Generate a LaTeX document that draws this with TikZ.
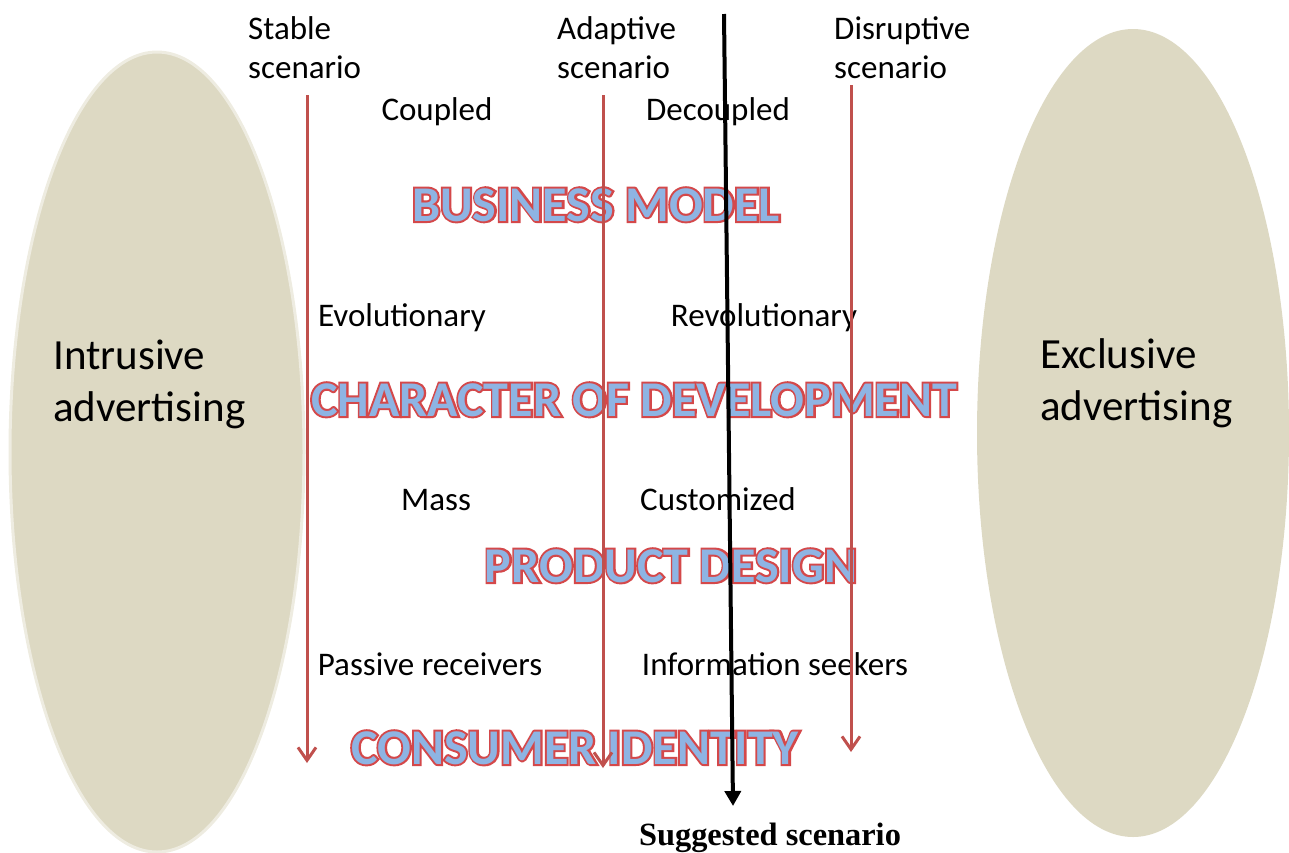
\documentclass[tikz,border=0pt]{standalone}
\usepackage{fontspec}
\setmainfont{Carlito}
\newfontfamily\serifbold{Liberation Serif}
\newfontface\artstroke{Carlito Bold}[FakeBold=8]
\newfontface\artfill{Carlito Bold}
\usepackage{xcolor}
\usepackage{tikz}
\usetikzlibrary{arrows.meta}

\definecolor{ovalfill}{HTML}{DDD9C3}
\definecolor{ovalrim}{HTML}{EEECE1}
\definecolor{trendred}{HTML}{C0504D}
\definecolor{artred}{HTML}{D4484A}
\definecolor{artblue}{HTML}{8EB4E3}

\newcommand{\artword}[1]{\rlap{\artstroke\textcolor{artred}{#1}}{\artfill\textcolor{artblue}{#1}}}

\tikzset{
  scenario/.style={font=\fontsize{33}{39}\selectfont, align=left, anchor=north west, inner sep=0pt},
  option/.style={font=\fontsize{33}{39}\selectfont, anchor=base, inner sep=0pt},
  wordart/.style={font=\fontsize{50}{56}\selectfont, anchor=base, inner sep=0pt},
  pole/.style={font=\fontsize{43}{52}\selectfont, align=left, anchor=north west, inner sep=0pt},
  trend/.style={trendred, line width=3pt, -{Straight Barb[length=13pt,width=18pt,line width=3pt]}}
}

\begin{document}
\begin{tikzpicture}[x=1pt, y=-1pt]
      \useasboundingbox (0,0) rectangle (1289,852);

      \coordinate (L) at (157,452);
      \coordinate (R) at (1133,433);
      \coordinate (S1) at (307,95);
      \coordinate (S2) at (307,763);
      \coordinate (A1) at (603,95);
      \coordinate (A2) at (603,768);
      \coordinate (D1) at (851,85);
      \coordinate (D2) at (851,752);
      \coordinate (G1) at (724,14);
      \coordinate (G2) at (733,806);

      \draw[ovalrim, line width=3pt, fill=ovalfill] (L) ellipse [x radius=147, y radius=400];
      \fill[ovalfill] (R) ellipse [x radius=156, y radius=404];

      \node[pole] (intrusive) at (53,340) {Intrusive\\advertising};
      \node[pole] (exclusive) at (1040,338) {Exclusive\\advertising};

      \node[scenario] (stable) at (248,16) {Stable\\scenario};
      \node[scenario] (adaptive) at (557,16) {Adaptive\\scenario};
      \node[scenario] (disruptive) at (834,16) {Disruptive\\scenario};

      \node[option] (coupled) at (437,120) {Coupled};
      \node[option] (decoupled) at (718,120) {Decoupled};
      \node[option] (evolutionary) at (402,326) {Evolutionary};
      \node[option] (revolutionary) at (764,326) {Revolutionary};
      \node[option] (mass) at (436,510) {Mass};
      \node[option] (customized) at (718,510) {Customized};
      \node[option] (passive) at (430,675) {Passive receivers};
      \node[option] (seekers) at (775,675) {Information seekers};

      \node[wordart] (business) at (596,221) {\artword{BUSINESS MODEL}};
      \node[wordart] (character) at (634,416) {\artword{CHARACTER OF DEVELOPMENT}};
      \node[wordart] (product) at (671,582) {\artword{PRODUCT DESIGN}};
      \node[wordart] (consumer) at (575,764) {\artword{CONSUMER IDENTITY}};

      \draw[trend] (S1) -- (S2);
      \draw[trend] (A1) -- (A2);
      \draw[trend] (D1) -- (D2);

      \draw[line width=4pt, -{Triangle[length=15pt,width=16pt]}] (G1) -- (G2);
      \node[anchor=base, inner sep=0pt, font=\fontsize{32.4}{36}\serifbold\bfseries] (suggested) at (770,845) {Suggested scenario};
    \end{tikzpicture}
\end{document}
